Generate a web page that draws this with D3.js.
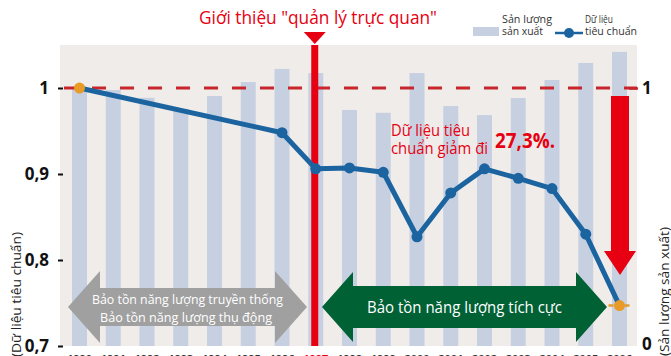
<!DOCTYPE html>
<html>
<head>
<meta charset="utf-8">
<script src="https://cdn.jsdelivr.net/npm/d3@7"></script>
<style>
  body { margin: 0; background: #fff; }
  svg { display: block; }
  text { font-family: "Open Sans", "Noto Sans", sans-serif; }
</style>
</head>
<body>
<svg id="chart" width="671" height="356"></svg>
<script>
// Years on the horizontal axis
const years = [1990, 1991, 1992, 1993, 1994, 1995, 1996, 1997, 1998, 1999, 2000, 2001, 2002, 2003, 2004, 2005, 2006];
// Production output (index, 1990 = 1), right axis
const production = [1.000, 0.992, 0.962, 0.919, 0.969, 1.023, 1.074, 1.058, 0.915, 0.904, 1.058, 0.930, 0.895, 0.961, 1.031, 1.097, 1.140];
// Standardised data (left axis)
const standardYears = [1990, 1996, 1997, 1998, 1999, 2000, 2001, 2002, 2003, 2004, 2005, 2006];
const standardValues = [1.000, 0.948, 0.906, 0.907, 0.902, 0.827, 0.878, 0.906, 0.895, 0.883, 0.830, 0.747];
// Axis ticks
const leftTicks = [0.7, 0.8, 0.9, 1];
const leftTickLabels = ["0,7", "0,8", "0,9", "1"];
const rightTicks = [0, 1];
const rightTickLabels = ["0", "1"];
const introYear = 1997;

const svg = d3.select("#chart");
const plot = { left: 60, right: 637, top: 45, bottom: 346 };

const x = d3.scalePoint().domain(years).range([79.5, 619.5]);
const yL = d3.scaleLinear().domain([0.7, 1]).range([346, 88]);
const yR = d3.scaleLinear().domain([0, 1]).range([346, 88]);
const barW = 15;

const RED = "#e60012";
const BLUE = "#1b64a0";
const ORANGE = "#e89b26";

// plot background
svg.append("rect")
  .attr("x", plot.left).attr("y", plot.top)
  .attr("width", plot.right - plot.left).attr("height", plot.bottom - plot.top)
  .attr("fill", "#f0ecea");

// production bars
svg.append("g").selectAll("rect")
  .data(years.map((yr, i) => ({ yr, v: production[i] })))
  .join("rect")
  .attr("x", d => x(d.yr) - barW / 2)
  .attr("y", d => yR(d.v))
  .attr("width", barW)
  .attr("height", d => yR(0) - yR(d.v))
  .attr("fill", "#c6d0e1");

// reference level at 1
svg.append("line")
  .attr("x1", plot.left + 4).attr("x2", plot.right)
  .attr("y1", yL(1)).attr("y2", yL(1))
  .attr("stroke", "#c8262c").attr("stroke-width", 3)
  .attr("stroke-dasharray", "14,14");

// double-headed arrow outline
function doubleArrow(x1, x2, yc, bodyHalf, headHalf, headLen) {
  return `M${x1},${yc} L${x1 + headLen},${yc - headHalf} L${x1 + headLen},${yc - bodyHalf} ` +
    `L${x2 - headLen},${yc - bodyHalf} L${x2 - headLen},${yc - headHalf} L${x2},${yc} ` +
    `L${x2 - headLen},${yc + headHalf} L${x2 - headLen},${yc + bodyHalf} ` +
    `L${x1 + headLen},${yc + bodyHalf} L${x1 + headLen},${yc + headHalf} Z`;
}

svg.append("path").attr("d", doubleArrow(68, 307, 307, 19, 36, 32)).attr("fill", "#a0a0a0");
svg.append("text").attr("x", 92).attr("y", 304).attr("font-size", 13.5).attr("fill", "#fff")
  .attr("textLength", 191).attr("lengthAdjust", "spacingAndGlyphs")
  .text("Bảo tồn năng lượng truyền thống");
svg.append("text").attr("x", 100).attr("y", 322).attr("font-size", 13.5).attr("fill", "#fff")
  .attr("textLength", 172).attr("lengthAdjust", "spacingAndGlyphs")
  .text("Bảo tồn năng lượng thụ động");

svg.append("path").attr("d", doubleArrow(322, 607, 307, 21, 35, 31)).attr("fill", "#006134");
svg.append("text").attr("x", 367).attr("y", 313).attr("font-size", 17).attr("fill", "#fff")
  .attr("textLength", 195).attr("lengthAdjust", "spacingAndGlyphs")
  .text("Bảo tồn năng lượng tích cực");

// introduction marker
const xi = x(introYear) - 1;
svg.append("line").attr("x1", xi).attr("x2", xi).attr("y1", plot.top).attr("y2", plot.bottom)
  .attr("stroke", RED).attr("stroke-width", 7);
svg.append("path").attr("d", `M${xi - 11},32 L${xi + 11},32 L${xi},44 Z`).attr("fill", RED);
svg.append("text").attr("x", 199).attr("y", 24).attr("font-size", 19).attr("fill", RED)
  .attr("textLength", 238).attr("lengthAdjust", "spacingAndGlyphs")
  .text("Giới thiệu \"quản lý trực quan\"");

// standardised data line
const pts = standardYears.map((yr, i) => ({ yr, v: standardValues[i] }));
svg.append("path").datum(pts)
  .attr("d", d3.line().x(d => x(d.yr)).y(d => yL(d.v)))
  .attr("fill", "none").attr("stroke", BLUE).attr("stroke-width", 5).attr("stroke-linejoin", "round");

const last = pts[pts.length - 1];
svg.append("line")
  .attr("x1", x(last.yr) - 11).attr("x2", x(last.yr) + 11)
  .attr("y1", yL(last.v)).attr("y2", yL(last.v))
  .attr("stroke", ORANGE).attr("stroke-width", 2.5).attr("stroke-dasharray", "5,3");

svg.append("g").selectAll("circle").data(pts).join("circle")
  .attr("cx", d => x(d.yr)).attr("cy", d => yL(d.v))
  .attr("r", 5.5)
  .attr("fill", (d, i) => (i === 0 || i === pts.length - 1) ? ORANGE : BLUE);

// big downward arrow
const xa = x(years[years.length - 1]) + 0.5;
svg.append("path")
  .attr("d", `M${xa - 9},96 L${xa + 9},96 L${xa + 9},251 L${xa + 16},251 L${xa},275 L${xa - 16},251 L${xa - 9},251 Z`)
  .attr("fill", RED);

// reduction annotation
svg.append("text").attr("x", 391).attr("y", 136).attr("font-size", 15.5).attr("fill", RED)
  .attr("textLength", 79).attr("lengthAdjust", "spacingAndGlyphs").text("Dữ liệu tiêu");
svg.append("text").attr("x", 391).attr("y", 154).attr("font-size", 15.5).attr("fill", RED)
  .attr("textLength", 97).attr("lengthAdjust", "spacingAndGlyphs").text("chuẩn giảm đi");
svg.append("text").attr("x", 495).attr("y", 148).attr("font-size", 22).attr("font-weight", "bold").attr("fill", RED)
  .attr("textLength", 60).attr("lengthAdjust", "spacingAndGlyphs").text("27,3%.");

// left axis
const axL = svg.append("g").attr("transform", `translate(63,0)`)
  .call(d3.axisLeft(yL).tickValues(leftTicks).tickSize(5).tickPadding(9)
    .tickFormat((d, i) => leftTickLabels[i]));
axL.select(".domain").remove();
axL.selectAll(".tick line").attr("stroke", "#111").attr("stroke-width", 2);
axL.selectAll(".tick text").attr("font-size", 17).attr("font-weight", "bold").attr("fill", "#111")
  .attr("font-family", "Roboto, sans-serif");

// right axis
const axR = svg.append("g").attr("transform", `translate(629,0)`)
  .call(d3.axisRight(yR).tickValues(rightTicks).tickSize(9).tickPadding(4)
    .tickFormat((d, i) => rightTickLabels[i]));
axR.select(".domain").remove();
axR.selectAll(".tick line").attr("stroke", d => d === 1 ? "#c8262c" : "none").attr("stroke-width", 2.5);
axR.selectAll(".tick text").attr("font-size", 17).attr("font-weight", "bold").attr("fill", "#111")
  .attr("font-family", "Roboto, sans-serif");
axR.selectAll(".tick").filter(d => d === 0).select("text").attr("dy", "0.2em");

// year labels along the bottom
svg.append("g").selectAll("text").data(years).join("text")
  .attr("x", d => x(d)).attr("y", 363).attr("text-anchor", "middle")
  .attr("font-size", 11).attr("font-weight", "bold")
  .attr("fill", d => d === introYear ? RED : "#333")
  .text(d => d);

// axis titles
svg.append("text").attr("transform", "translate(21,357) rotate(-90)")
  .attr("font-size", 13).attr("fill", "#222")
  .attr("textLength", 125).attr("lengthAdjust", "spacingAndGlyphs")
  .text("(Dữ liệu tiêu chuẩn)");
svg.append("text").attr("transform", "translate(669,356) rotate(-90)")
  .attr("font-size", 13).attr("fill", "#222")
  .attr("textLength", 129).attr("lengthAdjust", "spacingAndGlyphs")
  .text("(Sản lượng sản xuất)");

// legend
svg.append("rect").attr("x", 473).attr("y", 27).attr("width", 26).attr("height", 9).attr("fill", "#c6d0e1");
svg.append("text").attr("x", 502).attr("y", 23).attr("font-size", 11.5).attr("fill", "#333")
  .attr("textLength", 50).attr("lengthAdjust", "spacingAndGlyphs").text("Sản lượng");
svg.append("text").attr("x", 502).attr("y", 35).attr("font-size", 11.5).attr("fill", "#333")
  .attr("textLength", 41).attr("lengthAdjust", "spacingAndGlyphs").text("sản xuất");
svg.append("line").attr("x1", 555).attr("x2", 583).attr("y1", 33).attr("y2", 33)
  .attr("stroke", BLUE).attr("stroke-width", 2.5);
svg.append("circle").attr("cx", 569).attr("cy", 33).attr("r", 5).attr("fill", BLUE);
svg.append("text").attr("x", 585).attr("y", 23).attr("font-size", 11.5).attr("fill", "#333")
  .attr("textLength", 28).attr("lengthAdjust", "spacingAndGlyphs").text("Dữ liệu");
svg.append("text").attr("x", 585).attr("y", 35).attr("font-size", 11.5).attr("fill", "#333")
  .attr("textLength", 52).attr("lengthAdjust", "spacingAndGlyphs").text("tiêu chuẩn");
</script>
</body>
</html>
